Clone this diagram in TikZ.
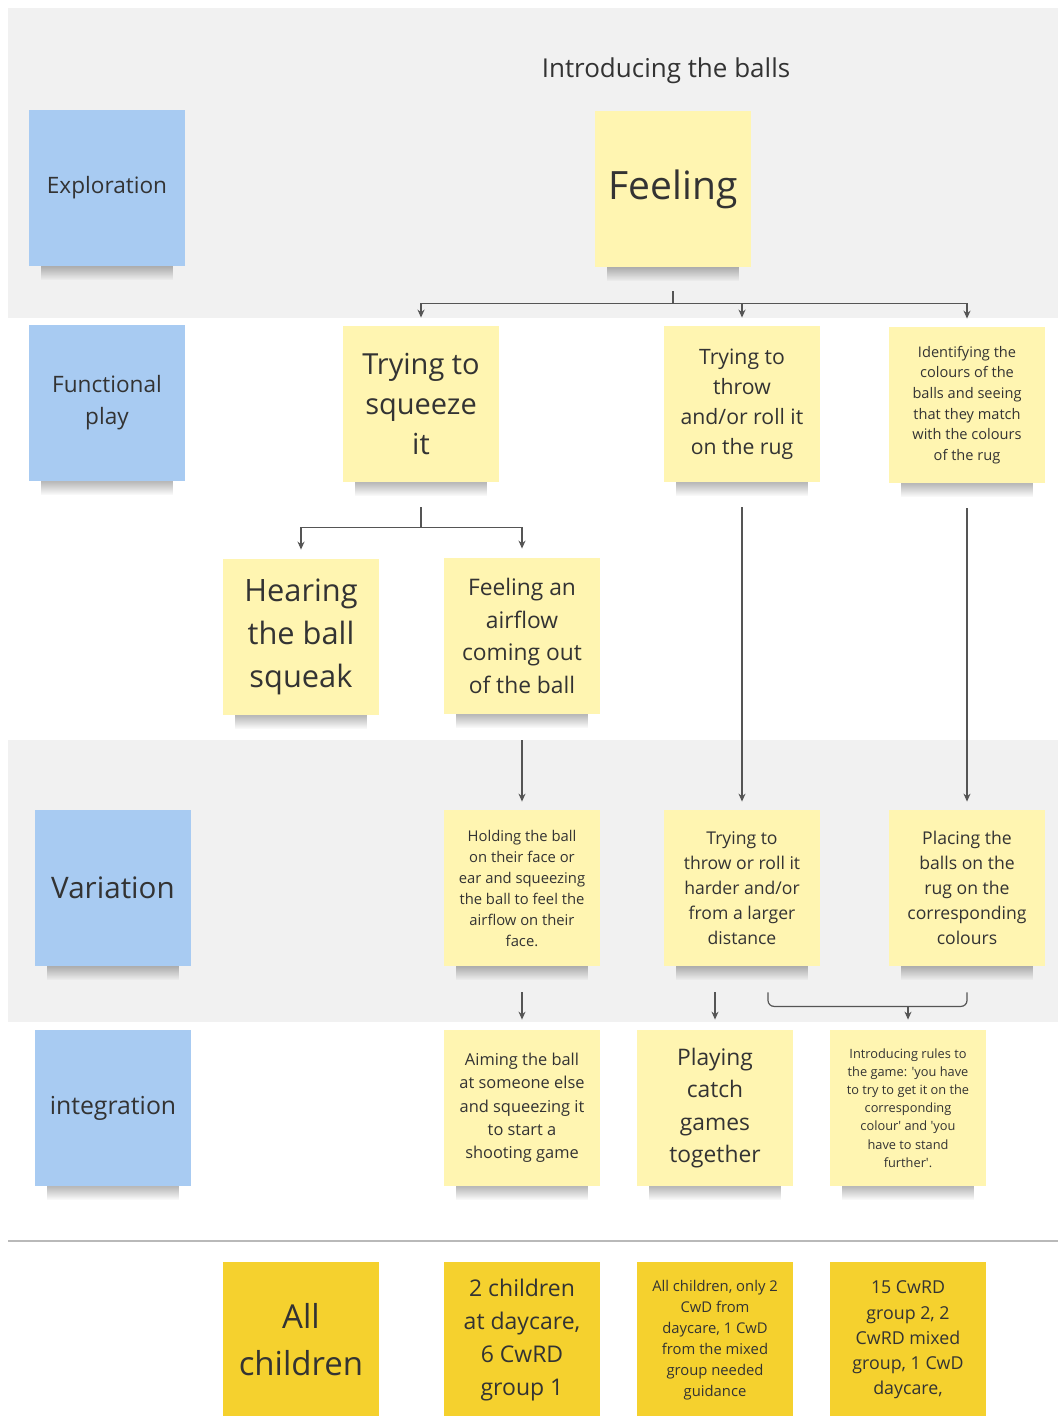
\documentclass[tikz,border=0pt]{standalone}
\usepackage{fontspec}
\setmainfont{Open Sans}
\usetikzlibrary{arrows.meta,fadings}
\definecolor{bandgray}{HTML}{F1F1F1}
\definecolor{stickyblue}{HTML}{A8CBF2}
\definecolor{stickyyellow}{HTML}{FFF5B1}
\definecolor{stickygold}{HTML}{F5D12E}
\definecolor{inktext}{HTML}{333333}
\definecolor{linegray}{HTML}{555555}
\begin{document}
\begin{tikzpicture}[x=0.5pt,y=-0.5pt,
    note/.style={minimum width=78pt,minimum height=78pt,inner sep=0pt,align=center,text=inktext},
    bluenote/.style={note,fill=stickyblue},
    yellownote/.style={note,fill=stickyyellow},
    goldnote/.style={note,fill=stickygold},
    noteshadow/.style={fill=black,opacity=0.28,path fading=south},
    conn/.style={draw=linegray,line width=0.6pt},
    arr/.style={conn,-{Stealth[length=4pt,width=3.5pt]}}]
    \useasboundingbox (0,0) rectangle (1058,1416);
    %% Bands
    \fill[bandgray] (8,8) rectangle (1058,318);
    \fill[bandgray] (8,740) rectangle (1058,1022);
    \draw[gray!55,line width=1pt] (8,1241) -- (1058,1241);
    %% Title
    \node[text=inktext,font=\fontsize{13}{18.5}\selectfont] (title) at (666,71) {Introducing the balls};
    %% Stages
    \node[bluenote,font=\fontsize{11.3}{16}\selectfont] (expl) at (107,188) {Exploration};
    \node[bluenote,font=\fontsize{11.3}{16}\selectfont] (func) at (107,403) {Functional\\play};
    \node[bluenote,font=\fontsize{14.8}{21}\selectfont] (var) at (113,888) {Variation};
    \node[bluenote,font=\fontsize{12.4}{17.6}\selectfont] (integ) at (113,1108) {integration};
    %% Exploration
    \node[yellownote,font=\fontsize{19.5}{27}\selectfont] (feel) at (673,189) {Feeling};
    %% Functional play
    \node[yellownote,font=\fontsize{14.5}{20.2}\selectfont] (squeeze) at (421,404) {Trying to\\squeeze\\it};
    \node[yellownote,font=\fontsize{10.6}{15}\selectfont] (throw) at (742,404) {Trying to\\throw\\and/or roll it\\on the rug};
    \node[yellownote,font=\fontsize{7.3}{10.35}\selectfont] (ident) at (967,405) {Identifying the\\colours of the\\balls and seeing\\that they match\\with the colours\\of the rug};
    \node[yellownote,font=\fontsize{15.4}{21.5}\selectfont] (hear) at (301,637) {Hearing\\the ball\\squeak};
    \node[yellownote,font=\fontsize{11.4}{16.25}\selectfont] (airflow) at (522,636) {Feeling an\\airflow\\coming out\\of the ball};
    %% Variation
    \node[yellownote,font=\fontsize{7.4}{10.5}\selectfont] (hold) at (522,888) {Holding the ball\\on their face or\\ear and squeezing\\the ball to feel the\\airflow on their\\face.};
    \node[yellownote,font=\fontsize{8.8}{12.5}\selectfont] (harder) at (742,888) {Trying to\\throw or roll it\\harder and/or\\from a larger\\distance};
    \node[yellownote,font=\fontsize{8.8}{12.5}\selectfont] (placing) at (967,888) {Placing the\\balls on the\\rug on the\\corresponding\\colours};
    %% Integration
    \node[yellownote,font=\fontsize{8.2}{11.65}\selectfont] (aim) at (522,1108) {Aiming the ball\\at someone else\\and squeezing it\\to start a\\shooting game};
    \node[yellownote,font=\fontsize{11.4}{16.25}\selectfont] (catch) at (715,1108) {Playing\\catch\\games\\together};
    \node[yellownote,font=\fontsize{6.4}{9.1}\selectfont] (rules) at (908,1108) {Introducing rules to\\the game: \textquotesingle you have\\to try to get it on the\\corresponding\\colour\textquotesingle\ and \textquotesingle you\\have to stand\\further\textquotesingle.};
    %% Groups
    \node[goldnote,font=\fontsize{16.5}{23.5}\selectfont] (allch) at (301,1340) {All\\children};
    \node[goldnote,font=\fontsize{11.5}{16.35}\selectfont] (twoch) at (522,1340) {2 children\\at daycare,\\6 CwRD\\group 1};
    \node[goldnote,font=\fontsize{7.4}{10.5}\selectfont] (onlytwo) at (715,1340) {All children, only 2\\CwD from\\daycare, 1 CwD\\from the mixed\\group needed\\guidance};
    \node[goldnote,font=\fontsize{8.9}{12.65}\selectfont] (fifteen) at (908,1340) {15 CwRD\\group 2, 2\\CwRD mixed\\group, 1 CwD\\daycare,};
    %% Shadows
    \foreach \n in {expl,func,var,integ,feel,squeeze,throw,ident,hear,airflow,hold,harder,placing,aim,catch,rules}
        \fill[noteshadow] ([xshift=6pt]\n.south west) rectangle ([xshift=-6pt,yshift=-7pt]\n.south east);
    %% Connectors
    \draw[conn,shorten <=12pt] (feel.south) -- ++(0,36) coordinate (feelfork);
    \foreach \n in {squeeze,throw,ident}
        \draw[arr,shorten >=4pt] (feelfork) -| (\n.north);
    \draw[conn,shorten <=12.5pt] (squeeze.south) -- ++(0,45) coordinate (squeezefork);
    \foreach \n in {hear,airflow}
        \draw[arr,shorten >=4.5pt] (squeezefork) -| (\n.north);
    \draw[arr,shorten <=13pt,shorten >=4pt] (airflow.south) -- (hold.north);
    \draw[arr,shorten <=12.5pt,shorten >=4pt] (throw.south) -- (harder.north);
    \draw[arr,shorten <=12.5pt,shorten >=4pt] (ident.south) -- (placing.north);
    \draw[arr,shorten <=13pt,shorten >=5pt] (hold.south) -- (aim.north);
    \draw[arr,shorten <=13pt,shorten >=5pt] (catch.north |- harder.south) -- (catch.north);
    \path (rules.north |- harder.south) ++(0,40) coordinate (brk);
    \draw[conn,rounded corners=3pt] ([xshift=13pt,yshift=-13pt]harder.south) |- (brk) -| ([yshift=-13pt]placing.south);
    \draw[arr,shorten >=5pt] (brk) -- (rules.north);
\end{tikzpicture}
\end{document}
